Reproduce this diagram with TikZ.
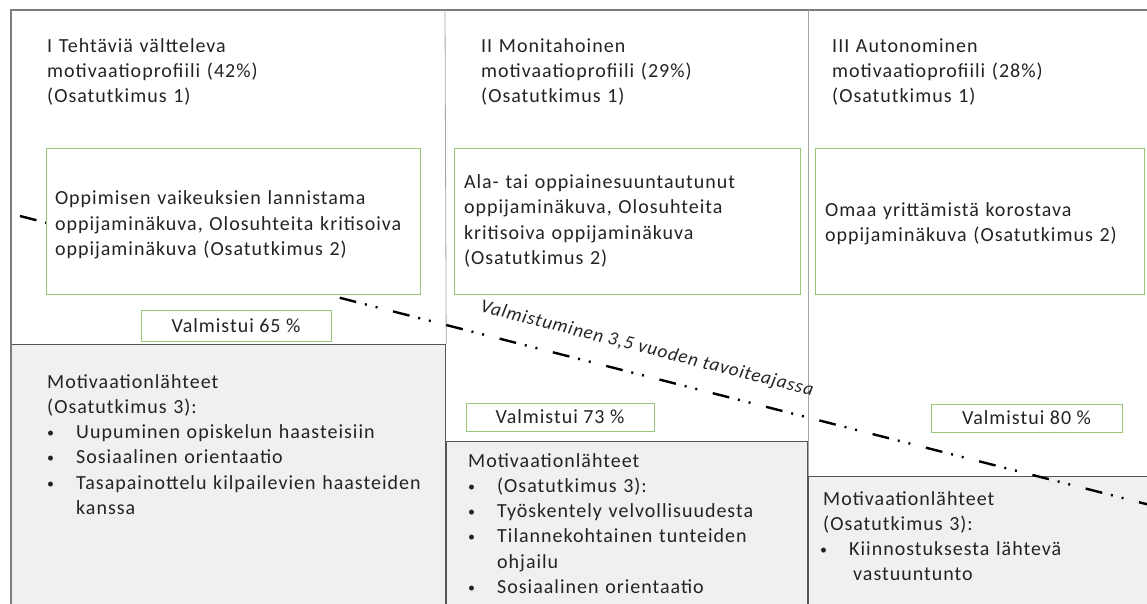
\documentclass[tikz,border=0pt]{standalone}
\usepackage{fontspec}
\setmainfont{Carlito}[LetterSpace=5]
\usetikzlibrary{positioning}
\definecolor{framegray}{RGB}{125,125,125}
\definecolor{linegray}{RGB}{165,165,165}
\definecolor{boxgreen}{RGB}{150,200,120}
\definecolor{srcfill}{RGB}{240,240,240}
\definecolor{srcdraw}{RGB}{85,85,85}
\definecolor{textgray}{RGB}{35,35,35}
\newcommand{\diagfont}{\fontsize{20}{25.3}\selectfont}
\newcommand{\itemdot}{\makebox[29pt][l]{\raisebox{1pt}{\fontsize{14}{14}\selectfont\textbullet}}}
\tikzstyle{titletext} = [anchor=base west, inner sep=0pt, align=left, text=textgray]
\tikzstyle{viewbox} = [rectangle, draw=boxgreen, line width=1pt, fill=white, inner xsep=9pt, align=left, text=textgray]
\tikzstyle{gradbox} = [rectangle, draw=boxgreen, line width=1pt, fill=white, text centered, text=textgray]
\tikzstyle{srcbox} = [rectangle, draw=srcdraw, line width=1.2pt, fill=srcfill, anchor=north west]
\tikzstyle{trackline} = [line width=2.4pt, dash pattern=on 17pt off 9pt on 2pt off 9pt on 2pt off 16pt]

\begin{document}
\begin{tikzpicture}[x=1pt, y=-1pt, font=\diagfont]
		\useasboundingbox (0,0) rectangle (1147,603);
		\node (src1) [srcbox, minimum width=434pt, minimum height=270pt] at (11,344) {};
		\node (src2) [srcbox, minimum width=361pt, minimum height=170pt] at (446,441) {};
		\node (src3) [srcbox, minimum width=345pt, minimum height=140pt] at (808,476) {};
		
		\coordinate (topleft) at (11,10);
		\coordinate (topright) at (1147,10);
		\draw [framegray, line width=1.5pt](src1.south west) -- (topleft) -- (topright);
		\draw [linegray, line width=0.8pt](445,10) -- (src1.north east);
		\draw [linegray, line width=0.8pt](808,10) -- (src3.north west);
		
		\coordinate (trackstart) at (20,216);
		\coordinate (trackend) at (1150,505);
		\draw [trackline](trackstart) -- (trackend);
		\node (tracklabel) [rotate=-14.3, text=textgray, font=\fontsize{19}{24}\selectfont\itshape] at (647,349) {Valmistuminen 3,5 vuoden tavoiteajassa};
		
		\node (title1) [titletext, text width=380pt] at (47,52) {I Tehtäviä vältteleva\\ motivaatioprofiili (42\%)\\ (Osatutkimus 1)};
		\node (title2) [titletext, text width=300pt] at (481,52) {II Monitahoinen\\ motivaatioprofiili (29\%)\\ (Osatutkimus 1)};
		\node (title3) [titletext, text width=300pt] at (832,52) {III Autonominen\\ motivaatioprofiili (28\%)\\ (Osatutkimus 1)};
		
		\node (view1) [viewbox, text height=22pt, minimum width=374pt, minimum height=146pt, text width=356pt] at (233,221) {Oppimisen vaikeuksien lannistama\\ oppijaminäkuva, Olosuhteita kritisoiva\\ oppijaminäkuva (Osatutkimus 2)};
		\node (view2) [viewbox, inner xsep=10pt, minimum width=346pt, minimum height=146pt, text width=326pt] at (627,221) {Ala- tai oppiainesuuntautunut\\ oppijaminäkuva, Olosuhteita\\ kritisoiva oppijaminäkuva\\ (Osatutkimus 2)};
		\node (view3) [viewbox, text height=20pt, inner xsep=10pt, minimum width=329pt, minimum height=146pt, text width=309pt] at (979.5,221) {Omaa yrittämistä korostava\\ oppijaminäkuva (Osatutkimus 2)};
		
		\node (grad1) [gradbox, minimum width=190pt, minimum height=31pt] at (236,325.5) {Valmistui 65 \%};
		\node (grad2) [gradbox, minimum width=188pt, minimum height=28pt] at (560,417) {Valmistui 73 \%};
		\node (grad3) [gradbox, minimum width=191pt, minimum height=28pt] at (1026.5,418) {Valmistui 80 \%};
		
		\node (srctext1) [titletext, text width=400pt] at (47,388) {Motivaationlähteet\\ (Osatutkimus 3):\\ \itemdot Uupuminen opiskelun haasteisiin\\ \itemdot Sosiaalinen orientaatio\\ \itemdot Tasapainottelu kilpailevien haasteiden\\ \hspace*{29pt}kanssa};
		\node (srctext2) [titletext, text width=330pt] at (468,467) {Motivaationlähteet\\ \itemdot (Osatutkimus 3):\\ \itemdot Työskentely velvollisuudesta\\ \itemdot Tilannekohtainen tunteiden\\ \hspace*{29pt}ohjailu\\ \itemdot Sosiaalinen orientaatio};
		\node (srctext3) [titletext, text width=320pt] at (823,505) {Motivaationlähteet\\ (Osatutkimus 3):\\ \hspace*{-3pt}\itemdot Kiinnostuksesta lähtevä\\ \hspace*{30pt}vastuuntunto};
	\end{tikzpicture}
\end{document}
